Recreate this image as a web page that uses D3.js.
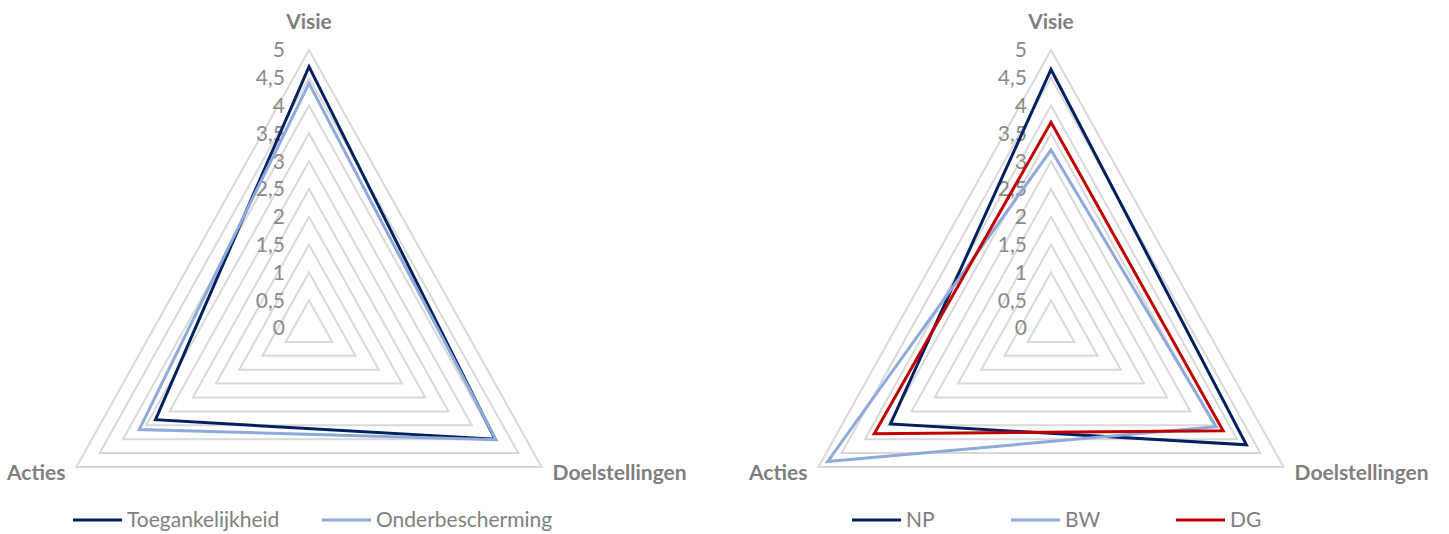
<!DOCTYPE html>
<html lang="nl">
<head>
<meta charset="UTF-8">
<title>Radar</title>
<script src="https://d3js.org/d3.v7.min.js"></script>
<style>
  body { margin: 0; background: #fff; }
  text { font-family: Lato, "Open Sans", sans-serif; }
  .tick { fill: #8a8a8a; font-size: 21px; }
  .axis-label { fill: #7f7f7f; font-size: 21px; font-weight: bold; }
  .legend text { fill: #7f7f7f; font-size: 21px; }
  .grid { fill: none; stroke: #d9d9d9; stroke-width: 2; }
</style>
</head>
<body>
<svg id="svg" width="1449" height="534"></svg>
<script>
// axes (clockwise from top)
const axes = ['Visie', 'Doelstellingen', 'Acties'];
const ticks = [0, 0.5, 1, 1.5, 2, 2.5, 3, 3.5, 4, 4.5, 5];

// left chart
const leftSeries = ['Toegankelijkheid', 'Onderbescherming'];
const toegankelijkheid = [4.7, 4.0, 3.3];
const onderbescherming = [4.4, 4.02, 3.65];

// right chart
const rightSeries = ['NP', 'BW', 'DG'];
const np = [4.65, 4.2, 3.45];
const bw = [3.2, 3.55, 4.8];
const dg = [3.7, 3.7, 3.8];

const colors = {
    Toegankelijkheid: '#002060', Onderbescherming: '#8eaadb',
    NP: '#002060', BW: '#8eaadb', DG: '#c00000'
};

let svg = d3.select('#svg');

function radar(cx, cy, names, values, legendX) {
    let g = svg.append('g');
    let r = d3.scaleLinear().domain([0, 5]).range([0, 278]);
    let kx = 0.966; // chart is slightly narrower than equilateral
    let angle = i => i * 2 * Math.PI / axes.length;
    let pt = (v, i) => [cx + Math.sin(angle(i)) * r(v) * kx, cy - Math.cos(angle(i)) * r(v)];
    let line = d3.line();

    // grid rings
    g.selectAll('.grid')
        .data(ticks.filter(t => t > 0))
        .enter().append('path')
        .attr('class', 'grid')
        .attr('d', t => line(axes.map((a, i) => pt(t, i))) + 'Z');

    // tick labels
    g.selectAll('.tick')
        .data(ticks)
        .enter().append('text')
        .attr('class', 'tick')
        .attr('x', cx - 24)
        .attr('y', t => cy - r(t))
        .attr('dy', '0.35em')
        .attr('text-anchor', 'end')
        .text(t => String(t).replace('.', ','));

    // series
    names.forEach((n, k) => {
        g.append('path')
            .attr('d', line(values[k].map((v, i) => pt(v, i))) + 'Z')
            .attr('fill', 'none')
            .attr('stroke', colors[n])
            .attr('stroke-width', 3)
            .attr('stroke-linejoin', 'miter');
    });

    // axis labels
    let top = pt(5, 0), right = pt(5, 1), left = pt(5, 2);
    g.append('text').attr('class', 'axis-label')
        .attr('x', top[0]).attr('y', 22).attr('dy', '0.35em')
        .attr('text-anchor', 'middle').text(axes[0]);
    g.append('text').attr('class', 'axis-label')
        .attr('x', right[0] + 11).attr('y', right[1] + 6).attr('dy', '0.35em')
        .attr('text-anchor', 'start').text(axes[1]);
    g.append('text').attr('class', 'axis-label')
        .attr('x', left[0] - 11).attr('y', left[1] + 6).attr('dy', '0.35em')
        .attr('text-anchor', 'end').text(axes[2]);

    // legend
    let lg = g.append('g').attr('class', 'legend');
    names.forEach((n, k) => {
        let x = legendX[k];
        lg.append('line')
            .attr('x1', x).attr('x2', x + 49)
            .attr('y1', 520).attr('y2', 520)
            .attr('stroke', colors[n]).attr('stroke-width', 3);
        lg.append('text')
            .attr('x', x + 54).attr('y', 520).attr('dy', '0.35em')
            .text(n);
    });
}

radar(309, 328, leftSeries, [toegankelijkheid, onderbescherming], [73, 322]);
radar(1051, 328, rightSeries, [np, bw, dg], [852, 1011, 1176]);
</script>
</body>
</html>
